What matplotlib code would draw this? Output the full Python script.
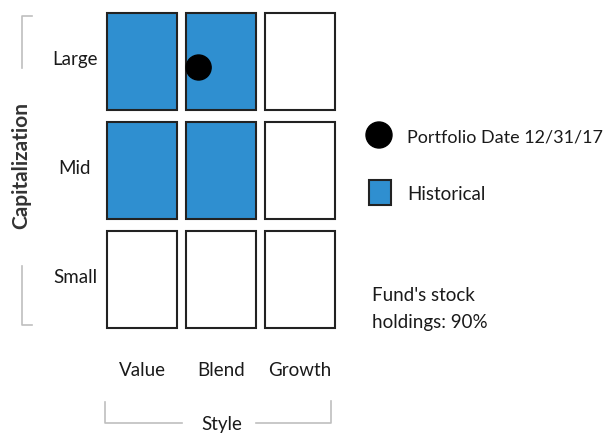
import matplotlib.pyplot as plt
from matplotlib.patches import Rectangle, Circle

plt.rcParams['font.family'] = ['Lato', 'DejaVu Sans']

# Style box data
caps = ["Large", "Mid", "Small"]
styles = ["Value", "Blend", "Growth"]
historical = [[1, 1, 0],
              [1, 1, 0],
              [0, 0, 0]]
# current portfolio position in grid units (style, capitalization)
portfolio_pos = (1.16, 0.50)
portfolio_label = "Portfolio Date 12/31/17"
historical_label = "Historical"
stock_note = "Fund's stock\nholdings: 90%"

blue = "#2f8fd0"
edge = "#222222"
gray = "#bfbfbf"
txt = "#1a1a1a"
fs = 13.5

fig = plt.figure(figsize=(6.04, 4.36), dpi=100)
ax = fig.add_axes([0, 0, 1, 1])
ax.set_xlim(0, 604)
ax.set_ylim(436, 0)
ax.axis("off")

# grid layout (pixels)
x0, cw, cg = 107, 70, 9
y0, ch, rg = 13, 97, 12

def cell_x(j):
    return x0 + j * (cw + cg)

def cell_y(i):
    return y0 + i * (ch + rg)

for i, cap in enumerate(caps):
    for j, st in enumerate(styles):
        fc = blue if historical[i][j] else "white"
        ax.add_patch(Rectangle((cell_x(j), cell_y(i)), cw, ch, facecolor=fc,
                               edgecolor=edge, lw=1.5))
    ax.text(75, cell_y(i) + ch / 2 - 2, cap, ha="center", va="center",
            fontsize=fs, color=txt)

for j, st in enumerate(styles):
    ax.text(cell_x(j) + cw / 2, 370, st, ha="center", va="center",
            fontsize=fs, color=txt)

# portfolio dot
px = x0 + portfolio_pos[0] * (cw + cg)
py = y0 + portfolio_pos[1] * (ch + rg)
ax.add_patch(Circle((px, py), 12.5, facecolor="black", edgecolor="black"))

# axis titles with brackets
ax.text(21, 165, "Capitalization", rotation=90, ha="center", va="center",
        fontsize=15, fontweight="bold", color="#333333")
ax.plot([32, 22, 22], [16, 16, 68], color=gray, lw=1.2)
ax.plot([22, 22, 32], [266, 325, 325], color=gray, lw=1.2)

ax.text(222, 424, "Style", ha="center", va="center", fontsize=fs, color=txt)
ax.plot([105, 105, 182], [402, 423, 423], color=gray, lw=1.2)
ax.plot([256, 331, 331], [423, 423, 401], color=gray, lw=1.2)

# legend
ax.add_patch(Circle((379, 135), 13, facecolor="black", edgecolor="black"))
ax.text(407, 137, portfolio_label, ha="left", va="center", fontsize=13, color=txt)
ax.add_patch(Rectangle((369, 180), 22, 25, facecolor=blue, edgecolor=edge, lw=1.5))
ax.text(407, 194, historical_label, ha="left", va="center", fontsize=fs, color=txt)

ax.text(372, 309, stock_note, ha="left", va="center", fontsize=fs, color=txt,
        linespacing=1.75)

fig.savefig("out.png", dpi=100)
